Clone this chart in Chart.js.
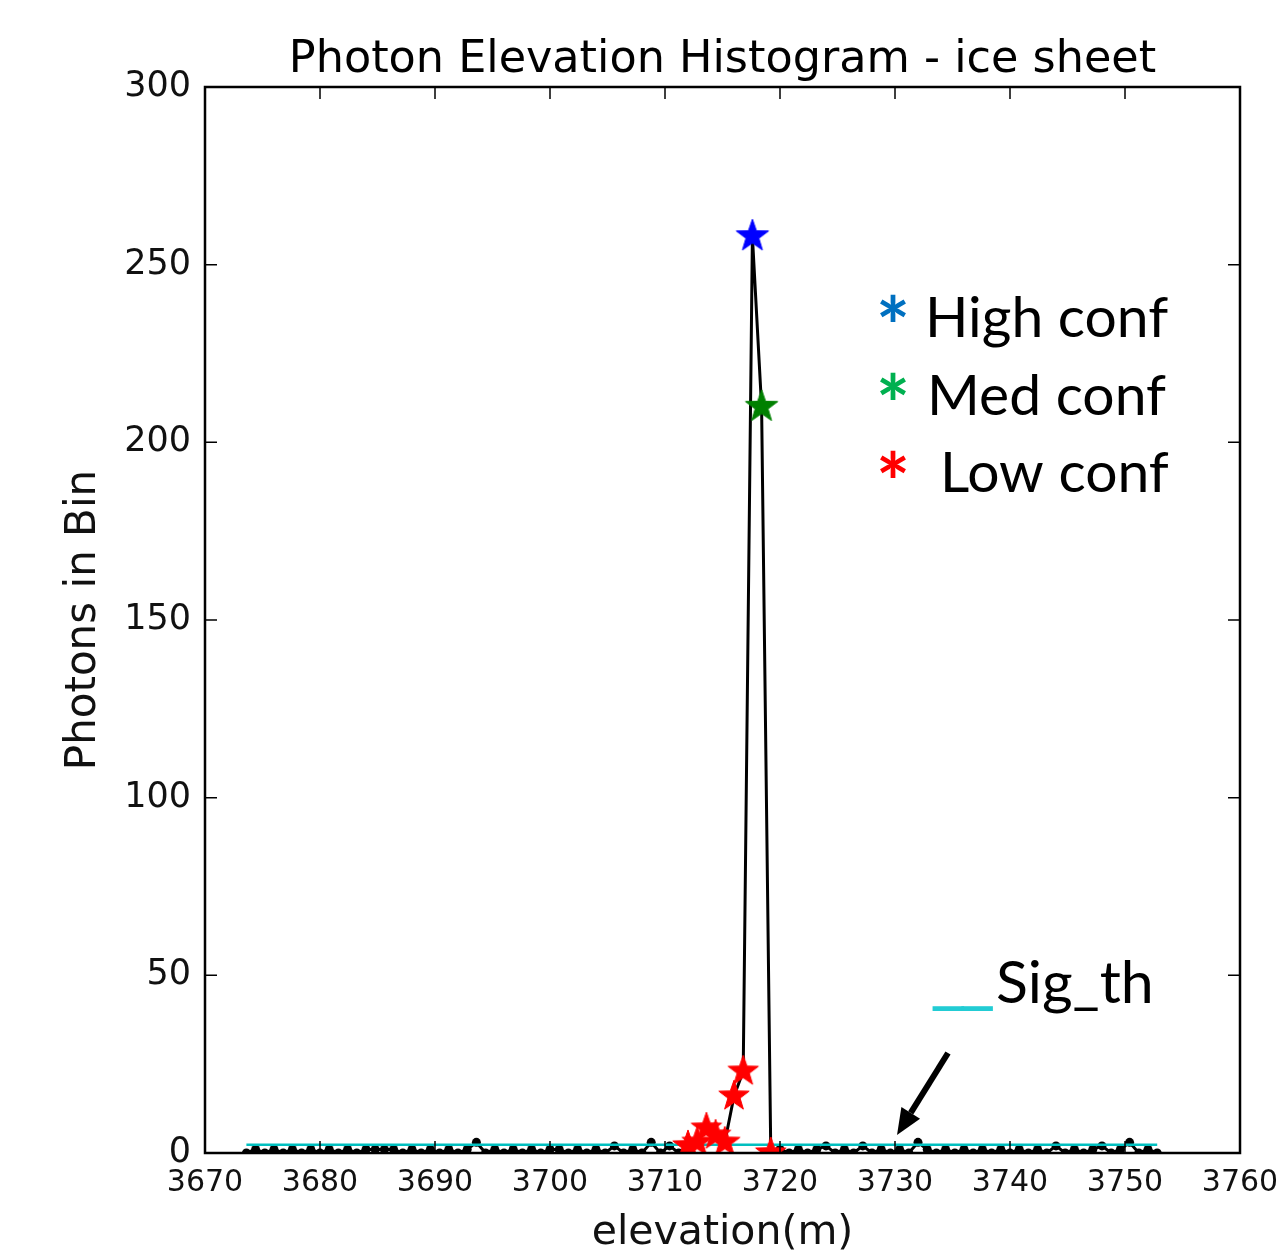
<!DOCTYPE html>
<html><head><meta charset="utf-8">
<script src="https://cdn.jsdelivr.net/npm/chart.js@4.4.1/dist/chart.umd.min.js"></script>
<style>html,body{margin:0;padding:0;background:#fff;} canvas{display:block;}</style>
</head><body>
<canvas id="c" width="1276" height="1252"></canvas>
<script>
// ---------- data ----------
const binElevation = [
 3673.6,3674.4,3675.2,3676.0,3676.8,3677.6,3678.4,3679.2,3680.0,3680.8,
 3681.6,3682.4,3683.2,3684.0,3684.8,3685.6,3686.4,3687.2,3688.0,3688.8,
 3689.6,3690.4,3691.2,3692.0,3692.8,3693.6,3694.4,3695.2,3696.0,3696.8,
 3697.6,3698.4,3699.2,3700.0,3700.8,3701.6,3702.4,3703.2,3704.0,3704.8,
 3705.6,3706.4,3707.2,3708.0,3708.8,3709.6,3710.4,3711.2,3712.0,3712.8,
 3713.6,3714.4,3715.2,3716.0,3716.8,3717.6,3718.4,3719.2,3720.0,3720.8,
 3721.6,3722.4,3723.2,3724.0,3724.8,3725.6,3726.4,3727.2,3728.0,3728.8,
 3729.6,3730.4,3731.2,3732.0,3732.8,3733.6,3734.4,3735.2,3736.0,3736.8,
 3737.6,3738.4,3739.2,3740.0,3740.8,3741.6,3742.4,3743.2,3744.0,3744.8,
 3745.6,3746.4,3747.2,3748.0,3748.8,3749.6,3750.4,3751.2,3752.0,3752.8
];
const photonCount = [
 0,1,0,1,0,1,0,1,0,1,
 0,1,0,1,1,1,1,0,1,0,
 1,0,1,0,1,3,0,1,0,1,
 0,1,0,1,1,0,1,0,1,0,
 2,0,1,0,3,0,2,0,2,3,
 7,5,3,16,23,258,210,0,1,0,
 1,0,1,2,0,1,0,2,0,1,
 0,1,0,3,1,0,1,0,1,0,
 1,0,1,0,1,0,1,0,2,0,
 1,0,1,2,0,1,3,0,1,0
];
const highConfElevation = [3717.6];
const highConfCount = [258];
const medConfElevation = [3718.4];
const medConfCount = [210];
const lowConfElevation = [3712.0,3712.8,3713.6,3714.4,3715.2,3716.0,3716.8,3719.2];
const lowConfCount = [2,3,7,5,3,16,23,0];
const sigThElevation = [3673.6,3752.8];
const sigThCount = [2.3,2.3];
const xTicks = [3670,3680,3690,3700,3710,3720,3730,3740,3750,3760];
const yTicks = [0,50,100,150,200,250,300];
const legendLabels = ['High conf','Med conf','Low conf'];
const legendColors = ['#0070C0','#00B050','#FF0000'];
const sigLabel = 'Sig_th';

// ---------- helpers ----------
function pts(xs, ys){ return xs.map((x,i)=>({x:x, y:ys[i]})); }
function starImage(color, R){
  const s = Math.ceil(R*2+4);
  const c = document.createElement('canvas'); c.width = s; c.height = s;
  const g = c.getContext('2d');
  const r = R*0.40;
  g.beginPath();
  for (let k=0;k<10;k++){
    const a = -Math.PI/2 + k*Math.PI/5;
    const rr = (k%2) ? r : R;
    const px = s/2 + rr*Math.cos(a), py = s/2 + rr*Math.sin(a);
    if (k===0) g.moveTo(px,py); else g.lineTo(px,py);
  }
  g.closePath(); g.fillStyle = color; g.fill();
  g.lineWidth = 1; g.strokeStyle = color; g.stroke();
  return c;
}

const framePlugin = {
  id: 'frame',
  afterDatasetsDraw(chart){
    const {ctx, chartArea:a, scales:{x, y}} = chart;
    ctx.save();
    ctx.strokeStyle = '#000'; ctx.lineWidth = 1.5;
    ctx.beginPath();
    xTicks.forEach(v=>{
      const px = x.getPixelForValue(v);
      ctx.moveTo(px, a.bottom); ctx.lineTo(px, a.bottom-12);
      ctx.moveTo(px, a.top); ctx.lineTo(px, a.top+12);
    });
    yTicks.forEach(v=>{
      const py = y.getPixelForValue(v);
      ctx.moveTo(a.left, py); ctx.lineTo(a.left+12, py);
      ctx.moveTo(a.right, py); ctx.lineTo(a.right-12, py);
    });
    ctx.stroke();
    ctx.lineWidth = 2.5;
    ctx.strokeRect(a.left, a.top, a.right-a.left, a.bottom-a.top);
    ctx.restore();
  }
};

const annotPlugin = {
  id: 'annot',
  afterDraw(chart){
    const {ctx, chartArea:a} = chart;
    ctx.save();
    // title
    ctx.fillStyle = '#000';
    ctx.font = '44.5px "DejaVu Sans"';
    ctx.textAlign = 'center'; ctx.textBaseline = 'alphabetic';
    ctx.fillText('Photon Elevation Histogram - ice sheet', (a.left+a.right)/2, 72);
    // legend text
    const fs = 57;
    const lx = [925, 927, 940];
    const ly = [337, 415, 492];
    const sy = [308, 386, 464];
    legendLabels.forEach((t,i)=>{
      ctx.font = fs + 'px Lato';
      ctx.textAlign = 'left';
      ctx.fillStyle = '#000';
      ctx.fillText(t, lx[i], ly[i]);
      ctx.fillStyle = legendColors[i];
      ctx.font = 'bold 80px Lato';
      const m = ctx.measureText('*');
      ctx.textAlign = 'center';
      ctx.fillText('*', 893, sy[i] + m.actualBoundingBoxAscent - (m.actualBoundingBoxAscent + m.actualBoundingBoxDescent)/2);
    });
    // Sig_th
    ctx.textAlign = 'left';
    ctx.font = '59px Lato';
    ctx.fillStyle = '#000';
    ctx.fillText(sigLabel, 996, 1003);
    ctx.fillStyle = '#22CCD4';
    ctx.font = '80px Lato';
    ctx.letterSpacing = '-8px';
    ctx.fillText('__', 930, 1000);
    ctx.letterSpacing = '0px';
    // arrow
    ctx.strokeStyle = '#000'; ctx.fillStyle = '#000'; ctx.lineWidth = 6; ctx.lineCap = 'butt';
    const x0 = 948, y0 = 1053, x1 = 897, y1 = 1135;
    const ang = Math.atan2(y1-y0, x1-x0);
    const hl = 26, hw = 11;
    const bx = x1 - hl*Math.cos(ang), by = y1 - hl*Math.sin(ang);
    ctx.beginPath(); ctx.moveTo(x0,y0); ctx.lineTo(bx,by); ctx.stroke();
    ctx.beginPath();
    ctx.moveTo(x1,y1);
    ctx.lineTo(bx + hw*Math.sin(ang), by - hw*Math.cos(ang));
    ctx.lineTo(bx - hw*Math.sin(ang), by + hw*Math.cos(ang));
    ctx.closePath(); ctx.fill();
    ctx.restore();
  }
};

new Chart(document.getElementById('c'), {
  type: 'line',
  data: {
    datasets: [
      { label:'High conf', data: pts(highConfElevation, highConfCount), showLine:false,
        pointStyle: starImage('#0000FF', 17), pointRadius: 17 },
      { label:'Med conf', data: pts(medConfElevation, medConfCount), showLine:false,
        pointStyle: starImage('#008000', 17), pointRadius: 17 },
      { label:'Low conf', data: pts(lowConfElevation, lowConfCount), showLine:false,
        pointStyle: starImage('#FF0000', 16), pointRadius: 16 },
      { label:'Sig_th', data: pts(sigThElevation, sigThCount), borderColor:'#00BFBF',
        borderWidth: 2.5, pointRadius: 0, fill:false },
      { label:'Photons', data: pts(binElevation, photonCount), borderColor:'#000',
        backgroundColor:'#000', borderWidth: 3, pointRadius: 4.5, pointBorderWidth: 0,
        pointBackgroundColor:'#000', tension: 0, fill:false }
    ]
  },
  options: {
    responsive: false, animation: false, devicePixelRatio: 1,
    layout: { padding: { top: 87, right: 36, left: 0, bottom: 0 } },
    plugins: { legend: { display:false }, tooltip: { enabled:false }, title: { display:false } },
    scales: {
      x: {
        type: 'linear', min: 3670, max: 3760,
        afterBuildTicks(s){ s.ticks = xTicks.map(v=>({value:v})); },
        afterFit(s){ s.height = 99; s.paddingLeft = 0; s.paddingRight = 0; },
        grid: { display:false, drawTicks:false },
        border: { display:false },
        ticks: { font:{ family:'DejaVu Sans', size:30 }, color:'#111', padding: 12, maxRotation:0, autoSkip:false,
                 callback: v => String(v) },
        title: { display:true, text:'elevation(m)', font:{ family:'DejaVu Sans', size:41, lineHeight:1 }, color:'#111', padding:{top:0,bottom:-2} }
      },
      y: {
        min: 0, max: 300,
        afterBuildTicks(s){ s.ticks = yTicks.map(v=>({value:v})); },
        afterFit(s){ s.width = 205; s.paddingTop = 0; s.paddingBottom = 0; },
        grid: { display:false, drawTicks:false },
        border: { display:false },
        ticks: { font:{ family:'DejaVu Sans', size:35 }, color:'#111', padding: 14, autoSkip:false,
                 callback: v => String(v) },
        title: { display:true, text:'Photons in Bin', font:{ family:'DejaVu Sans', size:42 }, color:'#111', padding:{top:59,bottom:0} }
      }
    }
  },
  plugins: [framePlugin, annotPlugin]
});
</script>
</body></html>
